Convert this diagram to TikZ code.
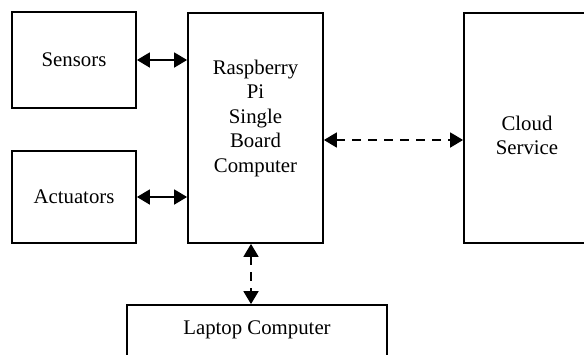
\documentclass[tikz,border=0pt]{standalone}
\usepackage{fontspec}
\setmainfont{Liberation Serif}
\usetikzlibrary{arrows.meta}
\tikzset{
	blockbox/.style={draw, line width=1.8pt, rectangle, align=center, font=\blockfont},
	linkarrow/.style={line width=1.8pt, {Triangle[length=13pt,width=15pt]}-{Triangle[length=13pt,width=15pt]}},
	netarrow/.style={linkarrow, dash pattern=on 9pt off 7pt}
}
\newcommand{\blockfont}{\fontsize{20.8}{24.5}\selectfont}

\begin{document}
\begin{tikzpicture}[x=1pt, y=-1pt]
			%%%%% START %%%%%
			\useasboundingbox (0, 0) rectangle (584, 354);
			\clip (0, 0) rectangle (584, 354);
			
			\node[blockbox, minimum width=124pt, minimum height=96pt] (sens) at (74, 60) {Sensors};
			\node[blockbox, minimum width=124pt, minimum height=92pt] (act) at (74, 197) {Actuators};
			
			\node[blockbox, minimum width=135pt, minimum height=230pt,
				label={[yshift=10pt, align=center, font=\blockfont]center:Raspberry\\Pi\\Single\\Board\\Computer}] (rpi) at (255.5, 128) {};
			
			\node[blockbox, minimum width=126pt, minimum height=230pt,
				label={[yshift=-7.5pt, align=center, font=\blockfont]center:Cloud\\Service}] (cloud) at (527, 128) {};
			
			\node[blockbox, minimum width=260pt, minimum height=60pt,
				label={[yshift=5pt, font=\blockfont]center:Laptop Computer}] (laptop) at (257, 335) {};
			\coordinate (lapin) at ([xshift=-6pt]laptop.north);
			
			\draw[linkarrow] (sens.east) -- (sens.east -| rpi.west);
			\draw[linkarrow] (act.east) -- (act.east -| rpi.west);
			
			\draw[netarrow] (rpi.east |- 0, 140) -- (cloud.west |- 0, 140);
			\draw[netarrow] (rpi.south -| lapin) -- (lapin);
			%%%%% END %%%%%
\end{tikzpicture}
\end{document}
